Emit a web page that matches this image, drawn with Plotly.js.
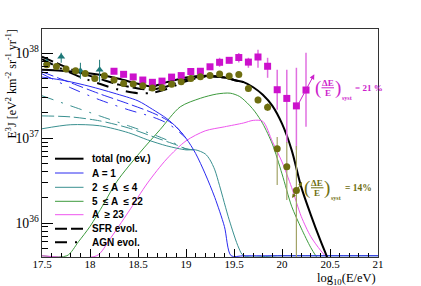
<!DOCTYPE html>
<html><head><meta charset="utf-8">
<script src="https://cdn.plot.ly/plotly-3.0.1.min.js"></script>
<style>html,body{margin:0;padding:0;background:#fff}#c{width:421px;height:286px}</style>
</head><body><div id="c"></div>
<script>
// ---------- model curves (x = log10(E/eV), y = E^3 J) ----------
const xTotal = [17.5,17.7,17.9,18.1,18.3,18.5,18.65,18.8,19.0,19.2,19.4,19.5,19.6,19.7,19.8,19.9,20.0,20.1,20.2,20.3,20.4,20.47];
const yTotal = [6.38e37,6.22e37,5.97e37,5.57e37,5.01e37,4.37e37,4.08e37,4.57e37,5.19e37,5.43e37,5.19e37,4.84e37,4.57e37,3.98e37,3.24e37,2.40e37,1.48e37,7.28e36,2.67e36,1.25e36,6.24e35,3.98e35];

const xEvol = [17.5,17.7,17.9,18.1,18.3,18.5,18.65,18.8,19.0,19.2,19.4,19.5,19.6];
const ySFR  = [9.12e37,7.24e37,5.89e37,5.01e37,4.27e37,3.85e37,3.76e37,4.07e37,4.90e37,5.37e37,5.19e37,4.84e37,4.57e37];
const yAGN  = [8.51e37,6.61e37,5.25e37,4.37e37,3.72e37,3.39e37,3.43e37,3.80e37,4.68e37,5.31e37,5.19e37,4.84e37,4.57e37];

const xA1 = [17.5,17.75,18.0,18.25,18.5,18.65,18.8,18.9,19.0,19.1,19.2,19.3,19.4,19.47,19.6,20.0,20.5,21.0];
const yA1 = [5.25e37,4.73e37,4.07e37,3.39e37,2.75e37,2.19e37,1.70e37,1.35e37,1.00e37,6.61e36,3.80e36,2.00e36,9.12e35,4.12e35,4.12e35,4.12e35,4.12e35,4.12e35];
const xA1ev = [17.5,17.8,18.1,18.4,18.65,18.8,18.9,19.0];
const yA1SFR = [6.05e37,4.49e37,3.33e37,2.54e37,1.99e37,1.64e37,1.35e37,1.00e37];
const yA1AGN = [5.73e37,3.92e37,2.83e37,2.16e37,1.78e37,1.51e37,1.26e37,1.00e37];

const xHe = [17.5,17.8,18.1,18.4,18.6,18.8,19.0,19.1,19.2,19.25,19.3,19.35,19.45,19.55,19.6,20.0,21.0];
const yHe = [1.29e37,1.44e37,1.40e37,1.16e37,9.55e36,8.11e36,7.28e36,7.28e36,6.53e36,5.55e36,4.23e36,2.75e36,1.09e36,5.08e35,4.12e35,4.12e35,4.12e35];
const xHeEv = [17.5,17.8,18.1,18.4,18.7,18.9,19.0,19.1];
const yHeSFR = [1.83e37,1.78e37,1.60e37,1.32e37,1.00e37,8.32e36,7.48e36,7.28e36];
const yHeAGN = [3.16e37,2.40e37,1.83e37,1.40e37,1.06e37,8.51e36,7.48e36,7.28e36];

const xCNO = [17.5,17.76,17.88,18.0,18.14,18.28,18.52,18.73,18.94,19.15,19.32,19.46,19.56,19.66,19.72,19.8,19.9,20.0,20.1,20.2,20.3,20.36];
const yCNO = [4.12e35,4.12e35,6.03e35,9.12e35,1.66e36,3.09e36,6.76e36,1.26e37,2.34e37,2.95e37,3.31e37,3.39e37,3.09e37,2.45e37,2.04e37,1.48e37,8.51e36,3.80e36,1.58e36,8.71e35,5.13e35,3.98e35];

const xHeavy = [17.5,18.07,18.2,18.4,18.6,18.8,19.0,19.2,19.4,19.6,19.7,19.8,19.9,20.0,20.1,20.2,20.3,20.4,20.46];
const yHeavy = [4.12e35,4.12e35,6.31e35,1.35e36,2.97e36,5.70e36,9.29e36,1.22e37,1.36e37,1.51e37,1.62e37,1.58e37,9.12e36,5.25e36,2.63e36,1.20e36,6.92e35,4.79e35,3.98e35];

// ---------- data points ----------
const xOlive = [17.55,17.65,17.75,17.85,17.95,18.05,18.15,18.25,18.35,18.45,18.55,18.65,18.75,18.85,18.95,19.05,19.15,19.25,19.35,19.45,19.55,19.65,19.75,19.85,19.95,20.05,20.15];
const yOlive = [7.31e37,6.98e37,6.53e37,6.22e37,5.77e37,5.05e37,5.45e37,4.83e37,4.41e37,4.35e37,4.14e37,3.89e37,3.92e37,4.31e37,4.61e37,5.04e37,5.28e37,5.47e37,5.70e37,5.40e37,5.61e37,3.85e37,2.81e37,2.32e37,7.48e36,4.62e36,2.42e36];
const hiOlive = [null,null,null,null,null,null,null,null,null,null,null,null,null,null,null,null,null,null,null,null,null,4.17e37,3.09e37,2.57e37,1.035e37,9.04e36,8.11e36];
const loOlive = [null,null,null,null,null,null,null,null,null,null,null,null,null,null,null,null,null,null,null,null,null,3.55e37,2.57e37,2.09e37,2.81e36,1.87e36,1.0e35];

const xMag = [18.25,18.35,18.45,18.55,18.65,18.75,18.85,18.95,19.05,19.15,19.25,19.35,19.45,19.55,19.65,19.75,19.85,19.95,20.05,20.15,20.25];
const yMag = [6.14e37,5.65e37,5.26e37,4.84e37,4.55e37,4.70e37,5.24e37,5.46e37,6.10e37,6.14e37,6.93e37,7.83e37,8.26e37,8.91e37,7.87e37,9.04e37,7.03e37,3.72e37,2.94e37,2.40e37,3.69e37];
const hiMag = [null,null,null,null,null,null,null,null,null,null,7.3e37,8.85e37,8.95e37,1.005e38,8.85e37,1.10e38,8.85e37,6.38e37,6.38e37,6.75e37,1.014e38];
const loMag = [null,null,null,null,null,null,null,null,null,null,6.6e37,6.93e37,7.62e37,7.78e37,6.75e37,6.75e37,5.14e37,2.16e37,8.81e36,7.28e36,1.36e37];

const xTri = [17.55,17.7,17.9,18.1];
const yTri = [7.73e37,9.12e37,6.22e37,6.38e37];
const hiTri = [8.61e37,1.014e38,7.73e37,8.38e37];
const loTri = [6.75e37,7.73e37,5.0e37,4.61e37];

const legendLabels = ['total (no ev.)','A = 1','2  \u2264 A  \u2264 4','5  \u2264 A  \u2264 22','A  \u2265 23','SFR evol.','AGN evol.'];
const xTickLabels = ['17.5','18','18.5','19','19.5','20','20.5','21'];

// ---------- styles ----------
const C = {blue:'#2a2af0', teal:'#3a9090', green:'#3d9a3d', mag:'#ee55ee', black:'#000',
           olive:'#6e6e10', oliveErr:'#a3a367', sq:'#cc11cc', sqErr:'#e070e0', tri:'#1d7878'};
const SFR_D = '12px,4px', AGN_D = '12px,8px,2px,8px';

function curve(x, y, color, width, dash){
  return {x:x, y:y, type:'scatter', mode:'lines', hoverinfo:'skip',
          line:{color:color, width:width, dash:dash||'solid', shape:'spline', smoothing:0.8}};
}
function errPlus(y, hi){ return y.map((v,i)=> hi[i]==null ? 0 : hi[i]-v); }
function errMinus(y, lo){ return y.map((v,i)=> lo[i]==null ? 0 : v-lo[i]); }
function points(x, y, hi, lo, sym, col, ecol, et){
  return {x:x, y:y, type:'scatter', mode:'markers', hoverinfo:'skip',
          marker:{symbol:sym, size:7, color:col},
          error_y:{type:'data', symmetric:false, array:errPlus(y,hi), arrayminus:errMinus(y,lo),
                   color:ecol, thickness:et, width:0}};
}

const data = [
  curve(xCNO, yCNO, C.green, 1),
  curve(xHeavy, yHeavy, C.mag, 1),
  curve(xHeEv, yHeSFR, C.teal, 1, SFR_D),
  curve(xHeEv, yHeAGN, C.teal, 1, AGN_D),
  curve(xHe, yHe, C.teal, 1),
  curve(xA1ev, yA1SFR, C.blue, 1, SFR_D),
  curve(xA1ev, yA1AGN, C.blue, 1, AGN_D),
  curve(xA1, yA1, C.blue, 1),
  curve(xEvol, ySFR, C.black, 2, SFR_D),
  curve(xEvol, yAGN, C.black, 2, AGN_D),
  curve(xTotal, yTotal, C.black, 2),
  points(xTri, yTri, hiTri, loTri, 'triangle-up', C.tri, C.tri, 1),
  points(xMag, yMag, hiMag, loMag, 'square', C.sq, C.sqErr, 1.5),
  points(xOlive, yOlive, hiOlive, loOlive, 'circle', C.olive, C.oliveErr, 1.2)
];

// ---------- layout helpers (pixel -> paper) ----------
const L=42, R=378, T=29, B=257;
const PX = p => (p-L)/(R-L), PY = p => (B-p)/(B-T);

const shapes = [], ann = [];
const legRows = [158.7,173,187.3,201.3,214.7,228.7,242.3];
const legStyle = [[C.black,2,'solid'],[C.blue,1,'solid'],[C.teal,1,'solid'],[C.green,1,'solid'],[C.mag,1,'solid'],[C.black,2,SFR_D],[C.black,2,AGN_D]];
legendLabels.forEach((t,i)=>{
  shapes.push({type:'line', xref:'paper', yref:'paper', x0:PX(55), x1:PX(83.5), y0:PY(legRows[i]), y1:PY(legRows[i]),
               line:{color:legStyle[i][0], width:legStyle[i][1], dash:legStyle[i][2]}});
  ann.push({xref:'paper', yref:'paper', x:PX(90), y:PY(legRows[i]), xanchor:'left', yanchor:'middle', showarrow:false,
            text:'<b>'+t+'</b>', font:{family:'Liberation Sans, Arial', size:10, color:'#000'}});
});

function sysGroup(col, px0, py0, label, lblSize){
  const serif = 'Liberation Serif, Times New Roman';
  const a = (txt, x, y, size, xa) => ann.push({xref:'paper', yref:'paper', x:PX(x), y:PY(y), xanchor:xa||'center', yanchor:'middle',
                                              showarrow:false, text:txt, font:{family:serif, size:size, color:col}});
  a('(', px0, py0, 19);
  a('<b>\u0394E</b>', px0+10, py0-5, 9);
  a('<b>E</b>', px0+10, py0+5.5, 9);
  a(')', px0+20, py0, 19);
  a('<b>syst</b>', px0+29, py0+10, 6);
  a('<b>'+label+'</b>', px0+35.5, py0, lblSize, 'left');
  shapes.push({type:'line', xref:'paper', yref:'paper', x0:PX(px0+4), x1:PX(px0+16.5), y0:PY(py0+0.3), y1:PY(py0+0.3), line:{color:col, width:1}});
}
sysGroup('#cc22cc', 317.5, 87.5, '= 21 %', 9);
sysGroup('#6e6e10', 307, 187.5, '= 14%', 9.5);

ann.push({xref:'paper', yref:'paper', x:PX(314.3), y:PY(74.3), ax:-17, ay:31.7, showarrow:true, text:'',
          arrowhead:2, arrowsize:1, arrowwidth:1, arrowcolor:'#cc22cc', standoff:0, startstandoff:0});
ann.push({xref:'paper', yref:'paper', x:PX(302), y:PY(182), ax:-10.7, ay:17.5, showarrow:true, text:'',
          arrowhead:2, startarrowhead:2, arrowside:'end+start', arrowsize:0.8, startarrowsize:0.8, arrowwidth:1, arrowcolor:'#6e6e10', standoff:0, startstandoff:0});

// axis titles
ann.push({xref:'paper', yref:'paper', x:PX(11), y:PY(28), xanchor:'center', yanchor:'top', textangle:-90, showarrow:false,
          text:'E<sup>3</sup>J [eV<sup>2</sup> km<sup>-2</sup> sr<sup>-1</sup> yr<sup>-1</sup>]',
          font:{family:'Liberation Serif, Times New Roman', size:12, color:'#000'}});
ann.push({xref:'paper', yref:'paper', x:PX(378), y:PY(278.5), xanchor:'right', yanchor:'middle', showarrow:false,
          text:'log<sub>10</sub>(E/eV)', font:{family:'Liberation Serif, Times New Roman', size:12.5, color:'#000'}});

const layout = {
  width:421, height:286, margin:{l:L, r:421-R, t:T, b:286-B, pad:0},
  paper_bgcolor:'#fff', plot_bgcolor:'#fff', showlegend:false,
  font:{family:'Liberation Serif, Times New Roman', size:11, color:'#000'},
  xaxis:{range:[17.5,21], tickmode:'array', tickvals:[17.5,18,18.5,19,19.5,20,20.5,21], ticktext:xTickLabels,
         ticks:'inside', ticklen:8, tickwidth:1, tickcolor:'#000', showline:true, linecolor:'#333', linewidth:1, mirror:true,
         showgrid:false, zeroline:false, ticklabelstandoff:-3, tickfont:{family:'Liberation Serif, Times New Roman', size:11},
         minor:{dtick:0.1, tick0:17.5, ticks:'inside', ticklen:4, tickcolor:'#000', showgrid:false}},
  yaxis:{type:'log', range:[35.6,38.286], dtick:1, tick0:0, exponentformat:'power',
         ticks:'inside', ticklen:11, tickwidth:1, tickcolor:'#000', showline:true, linecolor:'#333', linewidth:1, mirror:true,
         showgrid:false, zeroline:false, tickfont:{family:'Liberation Serif, Times New Roman', size:11},
         minor:{dtick:'D1', ticks:'inside', ticklen:6, tickcolor:'#000', showgrid:false}},
  shapes:shapes, annotations:ann
};

Plotly.newPlot('c', data, layout, {staticPlot:true, displayModeBar:false});
</script>
</body></html>
